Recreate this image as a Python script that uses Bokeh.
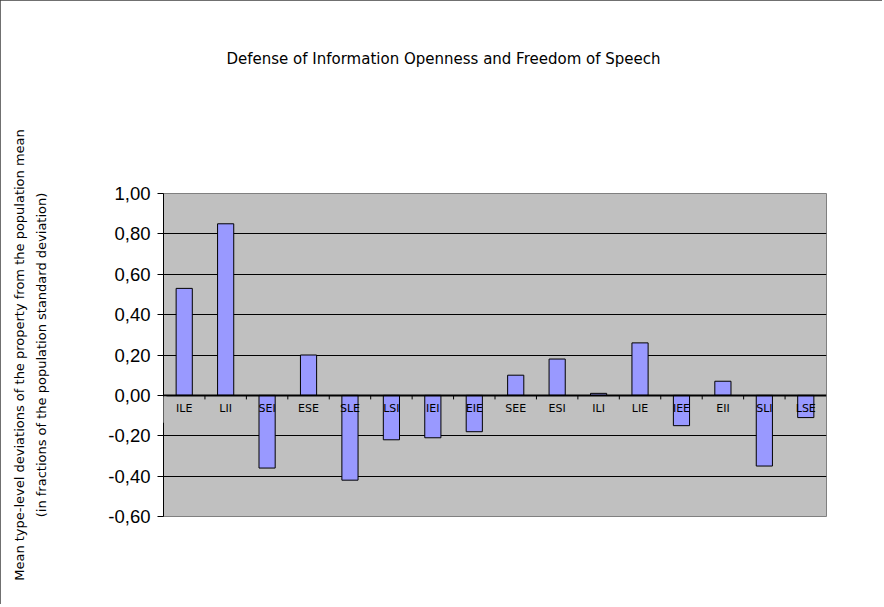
from bokeh.plotting import figure
from bokeh.models import (Range1d, FixedTicker, CustomJSTickFormatter, ColumnDataSource,
                          Span, BoxAnnotation, Title)
from bokeh.core.properties import value
from bokeh.embed import file_html
from bokeh.resources import INLINE

title_text = "Defense of Information Openness and Freedom of Speech"
y_title = ("Mean type-level deviations of the property from the population mean\n"
           "(in fractions of the population standard deviation)")
categories = ["ILE", "LII", "SEI", "ESE", "SLE", "LSI", "IEI", "EIE",
              "SEE", "ESI", "ILI", "LIE", "IEE", "EII", "SLI", "LSE"]
values = [0.53, 0.85, -0.36, 0.20, -0.42, -0.22, -0.21, -0.18,
          0.10, 0.18, 0.01, 0.26, -0.15, 0.07, -0.35, -0.11]
y_ticks = [-0.6, -0.4, -0.2, 0.0, 0.2, 0.4, 0.6, 0.8, 1.0]
grid_ticks = [-0.4, -0.2, 0.2, 0.4, 0.6, 0.8]

# layout (pixels)
W, H = 882, 604
BL, BT = 163, 193
FW, FH = 663, 323
BR, BB = W - BL - FW, H - BT - FH
x0, x1 = -0.5, len(categories) - 0.5
y0, y1 = -0.6, 1.0
dx = (x1 - x0) / FW

xs = list(range(len(categories)))
src = ColumnDataSource(dict(x=xs, top=values, cat=categories,
                            ly=[-0.063] * len(categories)))
bounds = ColumnDataSource(dict(x=[i + 0.5 for i in xs[:-1]]))

p = figure(width=W, height=H, output_backend="svg", toolbar_location=None,
           x_range=Range1d(x0, x1), y_range=Range1d(y0, y1),
           min_border_left=BL, min_border_right=BR, min_border_top=BT,
           min_border_bottom=BB)
p.title_location = None
p.background_fill_color = "#c0c0c0"
p.border_fill_color = "white"
p.outline_line_color = "#808080"
p.outline_line_width = 1
p.styles = {"outline": "1px solid #404040", "outline-offset": "-1px"}

# spacer between frame and title, then the title itself
p.add_layout(Title(text=" ", text_font="DejaVu Sans", text_font_size="15px",
                   standoff=101), "above")
p.add_layout(Title(text=title_text, text_font="DejaVu Sans", text_font_size="15px",
                   text_font_style="normal", text_color="black", align="left",
                   offset=63, standoff=10), "above")

p.xaxis.visible = False
p.xgrid.visible = False
p.ygrid.ticker = FixedTicker(ticks=grid_ticks)
p.ygrid.grid_line_color = "black"
p.ygrid.grid_line_width = 1

ax = p.yaxis[0]
ax.ticker = FixedTicker(ticks=y_ticks)
ax.formatter = CustomJSTickFormatter(code="return tick.toFixed(2).replace('.', ',');")
ax.major_label_text_font = "Liberation Sans"
ax.major_label_text_font_size = "18.5px"
ax.major_label_text_color = "black"
ax.major_label_standoff = 7
ax.major_tick_out = 6
ax.major_tick_in = 0
ax.minor_tick_out = 0
ax.minor_tick_in = 0
ax.axis_line_color = "black"
ax.major_tick_line_color = "black"
ax.axis_label = y_title
ax.axis_label_text_font = "DejaVu Sans"
ax.axis_label_text_font_size = "13px"
ax.axis_label_text_font_style = "normal"
ax.axis_label_text_color = "black"
ax.axis_label_text_line_height = 1.5
ax.axis_label_standoff = 56

p.vbar(x="x", top="top", bottom=0, width=0.39, source=src,
       fill_color="#9999ff", line_color="black", line_width=1)

p.add_layout(Span(location=0, dimension="width", line_color="black", line_width=2))
p.segment(x0="x", y0=0, x1="x", y1=-0.02, source=bounds, line_color="black", line_width=1)

p.add_layout(BoxAnnotation(left=x0 - 3 * dx, right=x0 + 3 * dx, top=-0.006, bottom=-0.135,
                           fill_color="#c0c0c0", fill_alpha=1, line_color=None))

p.text(x="x", y="ly", text="cat", source=src, text_font=value("DejaVu Sans"),
       text_font_size="11px", text_align="center", text_baseline="middle",
       text_color="black")

open("out.html", "w").write(file_html(p, INLINE))
